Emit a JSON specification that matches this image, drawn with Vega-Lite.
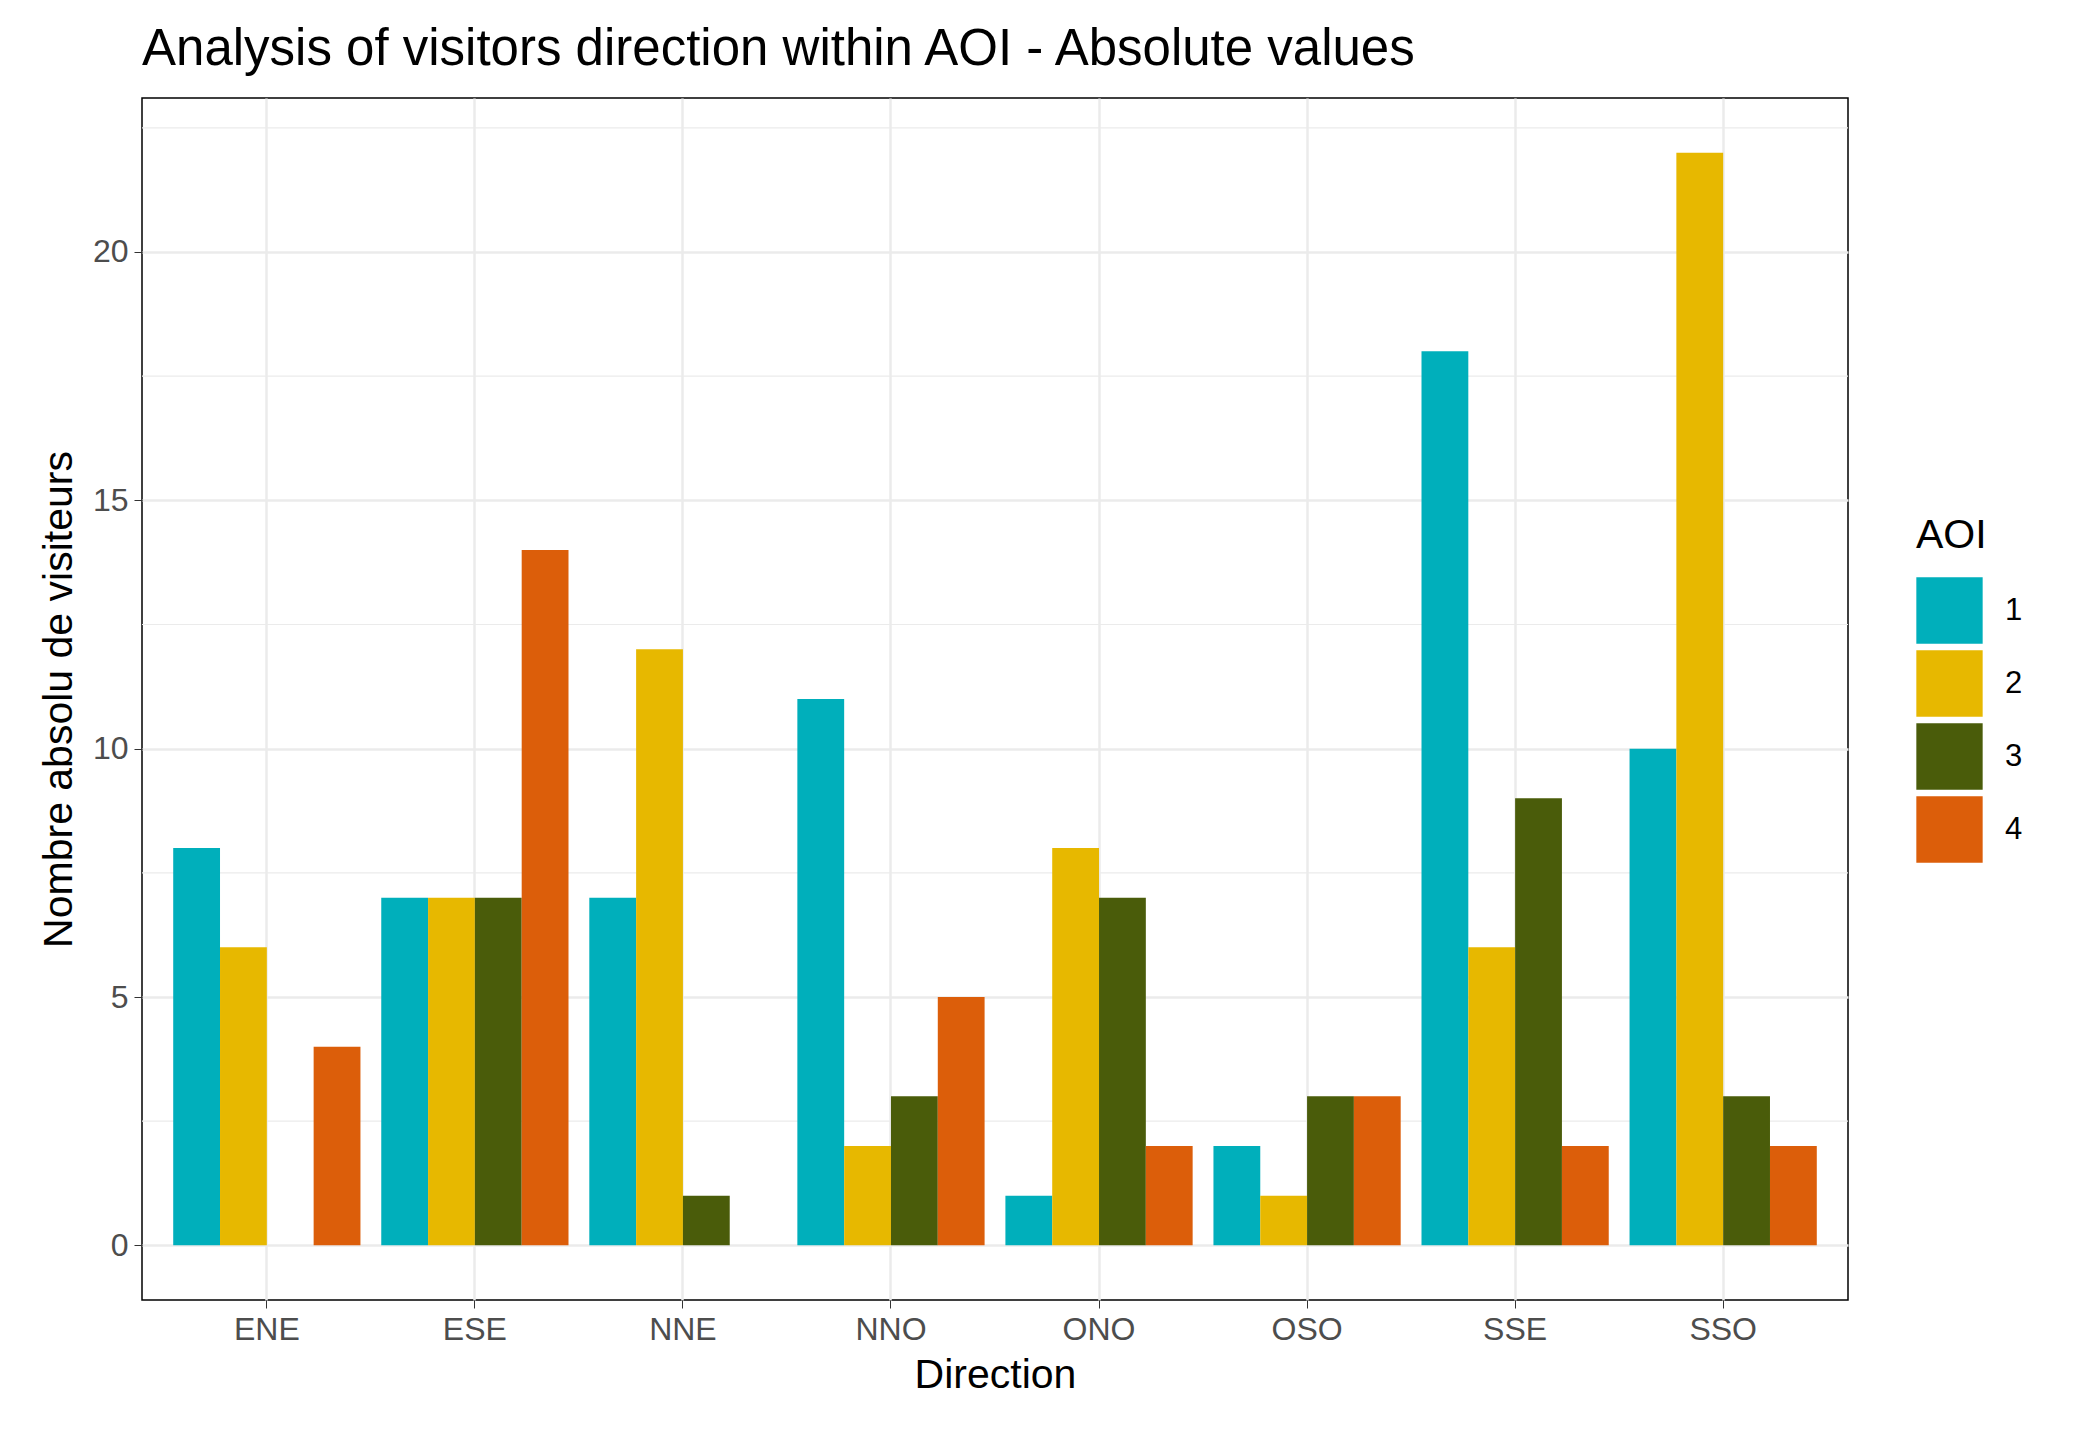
{
  "$schema": "https://vega.github.io/schema/vega-lite/v6.json",
  "autosize": "none",
  "width": 1706,
  "height": 1202,
  "padding": {"left": 142, "top": 98, "right": 230, "bottom": 137},
  "background": "white",
  "title": {
    "text": "Analysis of visitors direction within AOI - Absolute values",
    "anchor": "start",
    "frame": "group",
    "font": "Liberation Sans",
    "fontSize": 51,
    "fontWeight": "normal",
    "color": "black",
    "offset": 22
  },
  "config": {
    "font": "Liberation Sans",
    "view": {"stroke": "black", "strokeWidth": 1.5}
  },
  "datasets": {
    "minor": [{"v": 2.5}, {"v": 7.5}, {"v": 12.5}, {"v": 17.5}, {"v": 22.5}]
  },
  "data": {
    "values": [
      {"Direction": "ENE", "AOI": "1", "n": 8},
      {"Direction": "ENE", "AOI": "2", "n": 6},
      {"Direction": "ENE", "AOI": "4", "n": 4},
      {"Direction": "ESE", "AOI": "1", "n": 7},
      {"Direction": "ESE", "AOI": "2", "n": 7},
      {"Direction": "ESE", "AOI": "3", "n": 7},
      {"Direction": "ESE", "AOI": "4", "n": 14},
      {"Direction": "NNE", "AOI": "1", "n": 7},
      {"Direction": "NNE", "AOI": "2", "n": 12},
      {"Direction": "NNE", "AOI": "3", "n": 1},
      {"Direction": "NNO", "AOI": "1", "n": 11},
      {"Direction": "NNO", "AOI": "2", "n": 2},
      {"Direction": "NNO", "AOI": "3", "n": 3},
      {"Direction": "NNO", "AOI": "4", "n": 5},
      {"Direction": "ONO", "AOI": "1", "n": 1},
      {"Direction": "ONO", "AOI": "2", "n": 8},
      {"Direction": "ONO", "AOI": "3", "n": 7},
      {"Direction": "ONO", "AOI": "4", "n": 2},
      {"Direction": "OSO", "AOI": "1", "n": 2},
      {"Direction": "OSO", "AOI": "2", "n": 1},
      {"Direction": "OSO", "AOI": "3", "n": 3},
      {"Direction": "OSO", "AOI": "4", "n": 3},
      {"Direction": "SSE", "AOI": "1", "n": 18},
      {"Direction": "SSE", "AOI": "2", "n": 6},
      {"Direction": "SSE", "AOI": "3", "n": 9},
      {"Direction": "SSE", "AOI": "4", "n": 2},
      {"Direction": "SSO", "AOI": "1", "n": 10},
      {"Direction": "SSO", "AOI": "2", "n": 22},
      {"Direction": "SSO", "AOI": "3", "n": 3},
      {"Direction": "SSO", "AOI": "4", "n": 2}
    ]
  },
  "layer": [
    {
      "data": {"name": "minor"},
      "mark": {"type": "rule", "color": "#ebebeb", "strokeWidth": 1.2},
      "encoding": {
        "y": {"field": "v", "type": "quantitative", "scale": {"domain": [-1.1, 23.1], "nice": false, "zero": false}}
      }
    },
    {
      "mark": "bar",
      "encoding": {
        "x": {
          "field": "Direction",
          "type": "nominal",
          "scale": {"paddingInner": 0.1, "paddingOuter": 0.15},
          "axis": {
            "labelAngle": 0,
            "labelFontSize": 32,
            "labelColor": "#4d4d4d",
            "titleFontSize": 41,
            "titleFontWeight": "normal",
            "titleColor": "black",
            "titlePadding": 10,
            "grid": true,
            "bandPosition": 0.5,
            "gridColor": "#ebebeb",
            "gridWidth": 2.5,
            "domain": false,
            "tickColor": "#333333",
            "tickSize": 8,
            "labelPadding": 6
          }
        },
        "xOffset": {"field": "AOI", "type": "nominal", "sort": ["1", "2", "3", "4"]},
        "y": {
          "field": "n",
          "type": "quantitative",
          "title": "Nombre absolu de visiteurs",
          "scale": {"domain": [-1.1, 23.1], "nice": false, "zero": false},
          "axis": {
            "values": [0, 5, 10, 15, 20],
            "labelFontSize": 32,
            "labelColor": "#4d4d4d",
            "titleFontSize": 41,
            "titleFontWeight": "normal",
            "titleColor": "black",
            "titlePadding": 12,
            "grid": true,
            "gridColor": "#ebebeb",
            "gridWidth": 2.5,
            "domain": false,
            "tickColor": "#333333",
            "tickSize": 8,
            "labelPadding": 6
          }
        },
        "y2": {"datum": 0},
        "color": {
          "field": "AOI",
          "type": "nominal",
          "scale": {"domain": ["1", "2", "3", "4"], "range": ["#00AFBB", "#E7B800", "#4A5C0A", "#DC5E0A"]},
          "legend": {
            "titleFontSize": 41,
            "titleFontWeight": "normal",
            "titleColor": "black",
            "titlePadding": 20,
            "labelFontSize": 31,
            "labelColor": "black",
            "symbolType": "square",
            "symbolSize": 4400,
            "symbolStrokeWidth": 0,
            "symbolOpacity": 1,
            "rowPadding": 6,
            "labelOffset": 22,
            "orient": "none",
            "legendX": 1774,
            "legendY": 418
          }
        }
      }
    }
  ]
}
